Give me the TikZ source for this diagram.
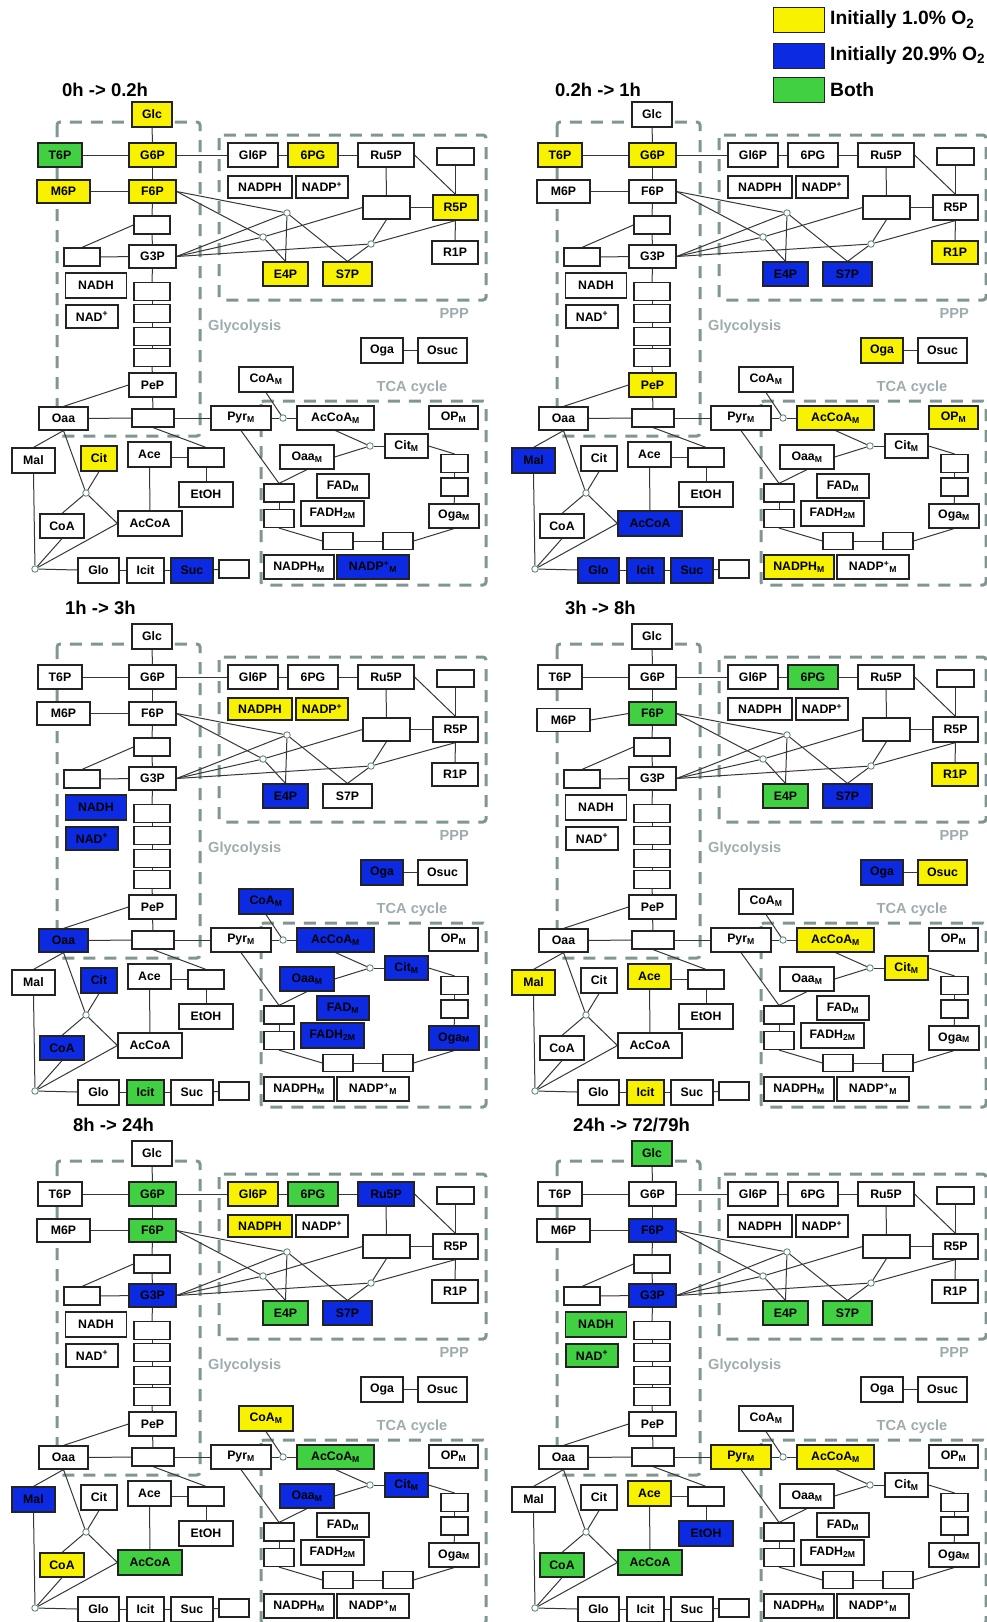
\documentclass[tikz,border=0pt]{standalone}
\usepackage{fontspec}
\setmainfont{Liberation Sans}
\pgfdeclarelayer{bg}
\pgfsetlayers{bg,main}
\definecolor{cY}{RGB}{248,242,0}
\definecolor{cB}{RGB}{12,42,225}
\definecolor{cG}{RGB}{65,208,65}
\definecolor{dashc}{RGB}{128,150,146}
\definecolor{labc}{RGB}{158,172,174}
\definecolor{linec}{RGB}{55,55,55}
\definecolor{boxc}{RGB}{35,35,35}
\definecolor{juncc}{RGB}{85,125,115}
\newcommand\setcol[2]{\expandafter\def\csname mycol@#1\endcsname{#2}}
\newcommand\getcol[1]{\ifcsname mycol@#1\endcsname\csname mycol@#1\endcsname\else white\fi}
\tikzset{
  mbox/.style={draw=boxc, line width=1.2pt, inner sep=0pt, text=black,
    font=\bfseries\fontsize{12.3}{14}\selectfont},
  junc/.style={circle, draw=juncc, fill=white, line width=0.8pt, inner sep=0pt, minimum size=6.5pt},
  conn/.style={draw=linec, line width=1pt},
  region/.style={draw=dashc, line width=3pt, dash pattern=on 12pt off 9pt, rounded corners=3pt},
  reglab/.style={text=labc, font=\bfseries\fontsize{14.6}{16}\selectfont, inner sep=0pt},
  ptitle/.style={font=\bfseries\fontsize{18.5}{20}\selectfont, inner sep=0pt, anchor=west},
  legbox/.style={draw=boxc, line width=1pt, minimum width=51pt, minimum height=25pt, inner sep=0pt},
  legtext/.style={font=\bfseries\fontsize{19.3}{21}\selectfont, inner sep=0pt, anchor=west},
}
\newcommand\mbx[6]{%
  \edef\thecol{\getcol{#1}}%
  \node[mbox, fill=\thecol, minimum width=#4, minimum height=#5] (#1) at (#2,#3) {#6};}
\newcommand\mjn[3]{\node[junc] (#1) at (#2,#3) {};}
\newcommand\panelbody{%
  % glycolysis column
  \mbx{Glc}{152}{114.5}{40}{25}{Glc}
  \mbx{T6P}{60}{155}{44}{24}{T6P}
  \mbx{G6P}{152.5}{155}{47}{24}{G6P}
  \mbx{M6P}{63.5}{191.5+\msix}{53}{23}{M6P}
  \mbx{F6P}{152.5}{191.5}{47}{23}{F6P}
  \mbx{e1}{152}{225}{36}{18}{}
  \mbx{eL}{82}{257}{36}{18}{}
  \mbx{G3P}{152.5}{256.5}{47}{23}{G3P}
  \mbx{NADH}{96}{285.5}{61}{25}{NADH}
  \mbx{NAD}{92}{316.5}{52}{23}{NAD\textsuperscript{+}}
  \mbx{e2}{152}{291.5}{36}{18}{}
  \mbx{e3}{152}{313.5}{36}{18}{}
  \mbx{e4}{152}{336.5}{36}{18}{}
  \mbx{e5}{152}{357.5}{36}{18}{}
  \mbx{PeP}{152.5}{385}{47}{24}{PeP}
  \mbx{Oaa}{63.5}{418.5}{49}{23}{Oaa}
  \mbx{e6}{153}{418}{42}{18}{}
  \mbx{PyrM}{241}{418}{60}{24}{Pyr\textsubscript{M}}
  \mbx{Mal}{33.5}{460.5}{43}{25}{Mal}
  \mbx{Cit}{99}{458.5}{36}{25}{Cit}
  \mbx{Ace}{149.5}{454.5}{43}{25}{Ace}
  \mbx{e7}{206}{457.5}{36}{19}{}
  \mbx{EtOH}{206}{494.5}{54}{25}{EtOH}
  \mjn{J1}{86}{493}
  \mbx{CoA}{62}{526}{44}{24}{CoA}
  \mbx{AcCoA}{150}{523.5}{64}{25}{AcCoA}
  \mjn{J2}{35}{569}
  \mbx{Glo}{98.5}{570.5}{41}{25}{Glo}
  \mbx{Icit}{145.5}{570.5}{37}{25}{Icit}
  \mbx{Suc}{192}{570.5}{42}{25}{Suc}
  \mbx{e8}{234}{569}{30}{18}{}
  % PPP
  \mbx{Gl6P}{253}{155}{50}{24}{Gl6P}
  \mbx{PG6}{313}{155}{50}{24}{6PG}
  \mbx{Ru5P}{386}{155}{56}{24}{Ru5P}
  \mbx{e9}{455.5}{156.5}{37}{17}{}
  \mbx{NADPH}{260}{187}{64}{22}{NADPH}
  \mbx{NADP}{322}{187}{52}{22}{NADP\textsuperscript{+}}
  \mbx{eX}{386.5}{207.5}{47}{23}{}
  \mbx{R5P}{455.5}{207.5}{45}{25}{R5P}
  \mbx{R1P}{455}{252.5}{46}{23}{R1P}
  \mbx{E4P}{285.5}{274}{45}{24}{E4P}
  \mbx{S7P}{347.5}{274}{49}{24}{S7P}
  \mjn{Ja}{287}{213}
  \mjn{Jb}{263}{237}
  \mjn{Jc}{371}{244}
  % TCA
  \mbx{Oga}{382}{350.5}{42}{25}{Oga}
  \mbx{Osuc}{442.5}{350.5}{49}{25}{Osuc}
  \mbx{CoAM}{266}{379.5}{54}{25}{CoA\textsubscript{M}}
  \mjn{Jd}{283}{418}
  \mbx{AcCoAM}{335.5}{418}{77}{24}{AcCoA\textsubscript{M}}
  \mbx{OPM}{453.5}{417.5}{49}{23}{OP\textsubscript{M}}
  \mjn{Je}{370}{446}
  \mbx{CitM}{406.5}{446}{43}{24}{Cit\textsubscript{M}}
  \mbx{OaaM}{307}{457}{54}{24}{Oaa\textsubscript{M}}
  \mbx{FADM}{343}{486}{52}{24}{FAD\textsubscript{M}}
  \mbx{FADHM}{332.5}{513.5}{63}{25}{FADH\textsubscript{2M}}
  \mbx{t1}{279}{493}{30}{18}{}
  \mbx{t2}{279}{518.5}{30}{18}{}
  \mbx{r1}{454.5}{463.5}{27}{18}{}
  \mbx{r2}{454.5}{487}{27}{18}{}
  \mbx{OgaM}{454}{516}{50}{24}{Oga\textsubscript{M}}
  \mbx{b1}{338}{541}{30}{17}{}
  \mbx{b2}{398}{541}{30}{17}{}
  \mbx{NADPHM}{299}{567}{70}{24}{NADPH\textsubscript{M}}
  \mbx{NADPM}{373}{567}{72}{24}{NADP\textsuperscript{+}\textsubscript{M}}
  % region labels
  \node[reglab, anchor=west] (glylab) at (208,327) {Glycolysis};
  \node[reglab, anchor=east] (ppplab) at (469,313) {PPP};
  \node[reglab] (tcalab) at (412,388) {TCA cycle};
  \begin{pgfonlayer}{bg}
    \draw[region] (57,122) rectangle (200,436);
    \draw[region] (219,135) rectangle (486,300);
    \draw[region] (261,401) rectangle (486,585);
    % glycolysis
    \draw[conn] (Glc) -- (G6P);
    \draw[conn] (G6P) -- (F6P);
    \draw[conn] (F6P) -- (e1);
    \draw[conn] (e1) -- (G3P);
    \draw[conn] (G3P) -- (e2);
    \draw[conn] (e2) -- (e3);
    \draw[conn] (e3) -- (e4);
    \draw[conn] (e4) -- (e5);
    \draw[conn] (e5) -- (PeP);
    \draw[conn] (PeP) -- (e6);
    \draw[conn] (T6P) -- (G6P);
    \draw[conn] (M6P.east) -- (F6P.west);
    \draw[conn] (eL) -- (G3P);
    \draw[conn] (eL.north) -- (e1.west);
    \draw[conn] (PeP.west) -- (Oaa.north);
    \draw[conn] (Oaa) -- (e6);
    \draw[conn] (e6) -- (PyrM);
    \draw[conn] (e6.south) -- (e7.north);
    \draw[conn] (e7.west) -- (e7.west -| Ace.east);
    \draw[conn] (e7) -- (EtOH);
    \draw[conn] (Ace) -- (AcCoA);
    \draw[conn] (Oaa.south) -- (Mal.north);
    \draw[conn] (Oaa.south) -- (J1);
    \draw[conn] (Cit.south) -- (J1);
    \draw[conn] (J1) -- (CoA.north);
    \draw[conn] (J1) -- (AcCoA.west);
    \draw[conn] (Mal.south) -- (J2);
    \draw[conn] (CoA.south) -- (J2);
    \draw[conn] (J2) -- (AcCoA.west);
    \draw[conn] (J2) -- (Glo);
    \draw[conn] (Glo) -- (Icit);
    \draw[conn] (Icit) -- (Suc);
    \draw[conn] (Suc) -- (e8);
    % PPP
    \draw[conn] (G6P) -- (Gl6P);
    \draw[conn] (Gl6P) -- (PG6);
    \draw[conn] (PG6) -- (Ru5P);
    \draw[conn] (Ru5P) -- (eX);
    \draw[conn] (Ru5P.east) -- (R5P.north);
    \draw[conn] (e9) -- (R5P);
    \draw[conn] (eX) -- (R5P);
    \draw[conn] (R5P) -- (R1P);
    \draw[conn] (F6P.east) -- (Ja);
    \draw[conn] (F6P.east) -- (Jb);
    \draw[conn] (G3P.east) -- (Ja);
    \draw[conn] (G3P.east) -- (Jb);
    \draw[conn] (G3P.east) -- (Jc);
    \draw[conn] (Ja) -- (E4P.north);
    \draw[conn] (Jb) -- (E4P.north);
    \draw[conn] (Ja) -- (S7P.north);
    \draw[conn] (Jc) -- (S7P.north);
    \draw[conn] (Jb) -- (eX.west);
    \draw[conn] (Jc) -- (eX.south);
    \draw[conn] (Jc) -- (R5P.south);
    % TCA
    \draw[conn] (PyrM) -- (Jd);
    \draw[conn] (Jd) -- (AcCoAM);
    \draw[conn] (CoAM.south) -- (Jd);
    \draw[conn] (Oga) -- (Osuc);
    \draw[conn] (PyrM.south) -- (t1.north);
    \draw[conn] (OaaM.south) -- (t1.north);
    \draw[conn] (t1) -- (t2);
    \draw[conn] (t2.south) -- (b1.west);
    \draw[conn] (b1) -- (b2);
    \draw[conn] (b2.east) -- (OgaM.south);
    \draw[conn] (OgaM) -- (r2);
    \draw[conn] (r2) -- (r1);
    \draw[conn] (CitM.east) -- (r1.north);
    \draw[conn] (Je) -- (CitM);
    \draw[conn] (AcCoAM.south) -- (Je);
    \draw[conn] (OaaM.east) -- (Je);
  \end{pgfonlayer}
}
\newcommand\mpanel[4]{%
  \begin{scope}[shift={(#1,#2)}, name prefix=#3-]
    \def\msix{0}#4\panelbody
  \end{scope}}
\begin{document}
\begin{tikzpicture}[x=1pt,y=-1pt]
\useasboundingbox (0,0) rectangle (986,1622);
\begin{pgfonlayer}{bg}
  \fill[white] (0,0) rectangle (986,1622);
\end{pgfonlayer}
% legend
\node[legbox, fill=cY] (lgY) at (798.5,19.5) {};
\node[legbox, fill=cB] (lgB) at (798.5,55.5) {};
\node[legbox, fill=cG] (lgG) at (798.5,90) {};
\node[legtext] (lgYt) at (830,20) {Initially 1.0\% O\textsubscript{2}};
\node[legtext] (lgBt) at (830,55.5) {Initially 20.9\% O\textsubscript{2}};
\node[legtext] (lgGt) at (830,90) {Both};
% titles
\node[ptitle] (T1) at (62,90) {0h -> 0.2h};
\node[ptitle] (T2) at (555,90) {0.2h -> 1h};
\node[ptitle] (T3) at (65,608) {1h -> 3h};
\node[ptitle] (T4) at (565,608) {3h -> 8h};
\node[ptitle] (T5) at (73,1124.5) {8h -> 24h};
\node[ptitle] (T6) at (573,1125) {24h -> 72/79h};
% panels
\mpanel{0}{0}{p1}{\setcol{Glc}{cY}\setcol{G6P}{cY}\setcol{M6P}{cY}\setcol{F6P}{cY}%
  \setcol{PG6}{cY}\setcol{R5P}{cY}\setcol{E4P}{cY}\setcol{S7P}{cY}\setcol{Cit}{cY}%
  \setcol{T6P}{cG}\setcol{Suc}{cB}\setcol{NADPM}{cB}}
\mpanel{500}{0}{p2}{\setcol{T6P}{cY}\setcol{G6P}{cY}\setcol{PeP}{cY}\setcol{R1P}{cY}%
  \setcol{Oga}{cY}\setcol{AcCoAM}{cY}\setcol{OPM}{cY}\setcol{NADPHM}{cY}%
  \setcol{E4P}{cB}\setcol{S7P}{cB}\setcol{Mal}{cB}\setcol{AcCoA}{cB}\setcol{Glo}{cB}%
  \setcol{Icit}{cB}\setcol{Suc}{cB}}
\mpanel{0}{522}{p3}{\setcol{NADPH}{cY}\setcol{NADP}{cY}%
  \setcol{E4P}{cB}\setcol{NADH}{cB}\setcol{NAD}{cB}\setcol{Oga}{cB}\setcol{CoAM}{cB}%
  \setcol{Oaa}{cB}\setcol{AcCoAM}{cB}\setcol{Cit}{cB}\setcol{OaaM}{cB}\setcol{CitM}{cB}%
  \setcol{FADM}{cB}\setcol{FADHM}{cB}\setcol{OgaM}{cB}\setcol{CoA}{cB}\setcol{Icit}{cG}}
\mpanel{500}{522}{p4}{\def\msix{6.5}\setcol{PG6}{cG}\setcol{F6P}{cG}\setcol{E4P}{cG}%
  \setcol{S7P}{cB}\setcol{Oga}{cB}%
  \setcol{R1P}{cY}\setcol{Osuc}{cY}\setcol{AcCoAM}{cY}\setcol{CitM}{cY}\setcol{Mal}{cY}%
  \setcol{Ace}{cY}\setcol{Icit}{cY}}
\mpanel{0}{1039}{p5}{\setcol{G6P}{cG}\setcol{F6P}{cG}\setcol{PG6}{cG}\setcol{E4P}{cG}%
  \setcol{AcCoAM}{cG}\setcol{AcCoA}{cG}%
  \setcol{Gl6P}{cY}\setcol{NADPH}{cY}\setcol{CoAM}{cY}\setcol{CoA}{cY}%
  \setcol{Ru5P}{cB}\setcol{G3P}{cB}\setcol{S7P}{cB}\setcol{Mal}{cB}\setcol{OaaM}{cB}\setcol{CitM}{cB}}
\mpanel{500}{1039}{p6}{\setcol{Glc}{cG}\setcol{E4P}{cG}\setcol{S7P}{cG}\setcol{NADH}{cG}%
  \setcol{NAD}{cG}\setcol{CoA}{cG}\setcol{AcCoA}{cG}%
  \setcol{F6P}{cB}\setcol{G3P}{cB}\setcol{EtOH}{cB}%
  \setcol{PyrM}{cY}\setcol{AcCoAM}{cY}\setcol{Ace}{cY}}
\end{tikzpicture}
\end{document}
